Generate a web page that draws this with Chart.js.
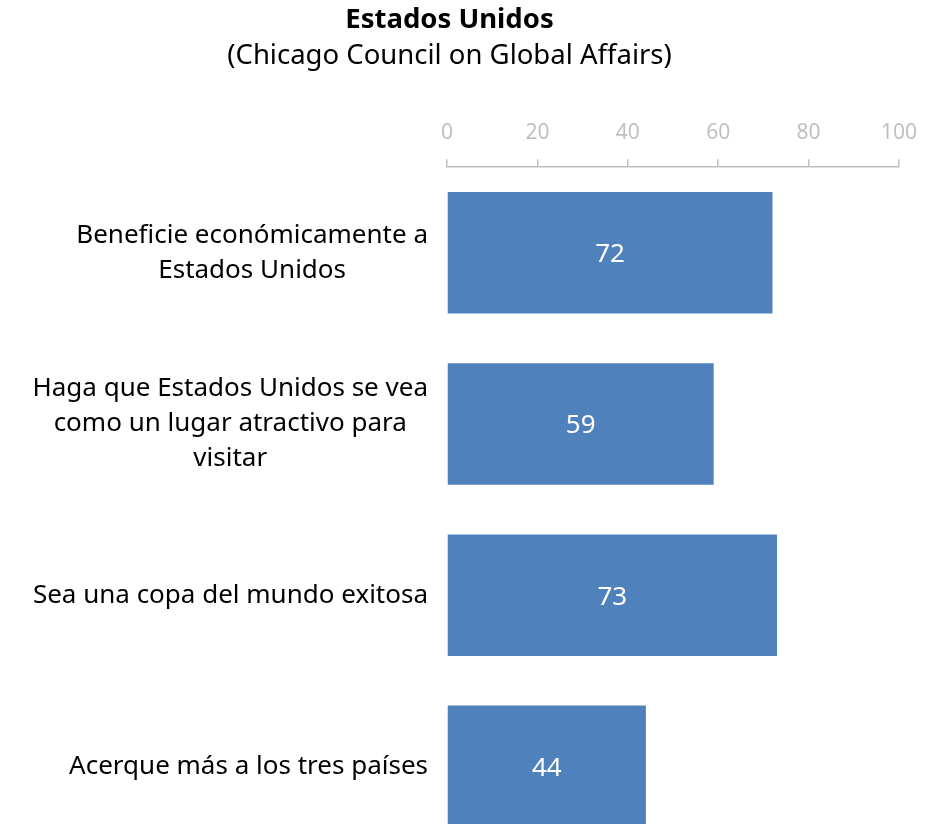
<html lang="es">
<head>
    <meta charset="UTF-8">
    <title>Estados Unidos</title>
    <style>
        body { margin: 0; background: #fff; overflow: hidden; }
        /* taller than the window: the last bar runs past the bottom edge */
        .chartBox { width: 941px; height: 852px; }
    </style>
</head>
<body>
    <div class="chartBox">
        <canvas id="myChart"></canvas>
    </div>

    <script src="https://cdn.jsdelivr.net/npm/chart.js@4"></script>
    <script>
        // data
        const categories = [
            ['Beneficie económicamente a', 'Estados Unidos'],
            ['Haga que Estados Unidos se vea', 'como un lugar atractivo para', 'visitar'],
            ['Sea una copa del mundo exitosa'],
            ['Acerque más a los tres países']
        ];
        const values = [72, 59, 73, 44];
        const xTicks = [0, 20, 40, 60, 80, 100];

        const fontFamily = "'Noto Sans', 'Open Sans', sans-serif";

        // category labels: block right-aligned, lines centred inside the block
        const labelPlugin = {
            id: 'labels',
            afterDraw(chart) {
                const ctx = chart.ctx;
                const yScale = chart.scales.y;
                ctx.save();
                ctx.font = '26px ' + fontFamily;
                ctx.fillStyle = '#000';
                ctx.textAlign = 'center';
                ctx.textBaseline = 'middle';
                const right = chart.chartArea.left - 19;
                const lineH = 35;
                categories.forEach((lines, i) => {
                    const cy = yScale.getPixelForTick(i);
                    const w = Math.max(...lines.map(l => ctx.measureText(l).width));
                    const cx = right - w / 2;
                    lines.forEach((l, j) => {
                        ctx.fillText(l, cx, cy + (j - (lines.length - 1) / 2) * lineH);
                    });
                });
                // value labels in bars
                ctx.font = '26px ' + fontFamily;
                ctx.fillStyle = '#fff';
                chart.getDatasetMeta(0).data.forEach((bar, i) => {
                    const p = bar.getProps(['x', 'y', 'base']);
                    ctx.fillText(values[i], (p.x + p.base) / 2, p.y + 2);
                });
                ctx.restore();
            }
        };

        const ctx = document.getElementById('myChart').getContext('2d');
        new Chart(ctx, {
            type: 'bar',
            data: {
                labels: categories,
                datasets: [{
                    data: values,
                    backgroundColor: '#4f81bd',
                    borderWidth: 0,
                    barPercentage: 0.71,
                    categoryPercentage: 1
                }]
            },
            options: {
                indexAxis: 'y',
                responsive: true,
                maintainAspectRatio: false,
                animation: false,
                layout: { padding: { left: 0, right: 42, top: 0, bottom: 0 } },
                plugins: {
                    legend: { display: false },
                    tooltip: { enabled: false },
                    title: {
                        display: true,
                        text: 'Estados Unidos',
                        color: '#000',
                        font: { family: fontFamily, size: 27.5, weight: 'bold' },
                        padding: { top: 4, bottom: 3 }
                    },
                    subtitle: {
                        display: true,
                        text: '(Chicago Council on Global Affairs)',
                        color: '#000',
                        font: { family: fontFamily, size: 27.5 },
                        padding: { top: 0, bottom: 33 }
                    }
                },
                scales: {
                    x: {
                        position: 'top',
                        min: 0,
                        max: 100,
                        afterBuildTicks(scale) {
                            scale.ticks = xTicks.map(v => ({ value: v }));
                        },
                        grid: {
                            drawOnChartArea: false,
                            drawTicks: true,
                            tickLength: 8,
                            color: '#bfbfbf',
                            lineWidth: 1.5
                        },
                        border: { display: true, color: '#bfbfbf', width: 1.5 },
                        ticks: {
                            color: '#c0c0c0',
                            font: { family: fontFamily, size: 21 },
                            padding: 14,
                            maxRotation: 0
                        }
                    },
                    y: {
                        grid: { display: false },
                        border: { display: false },
                        ticks: { display: false },
                        afterFit(scale) {
                            scale.width = 447;
                        }
                    }
                }
            },
            plugins: [labelPlugin]
        });
    </script>
</body>
</html>
